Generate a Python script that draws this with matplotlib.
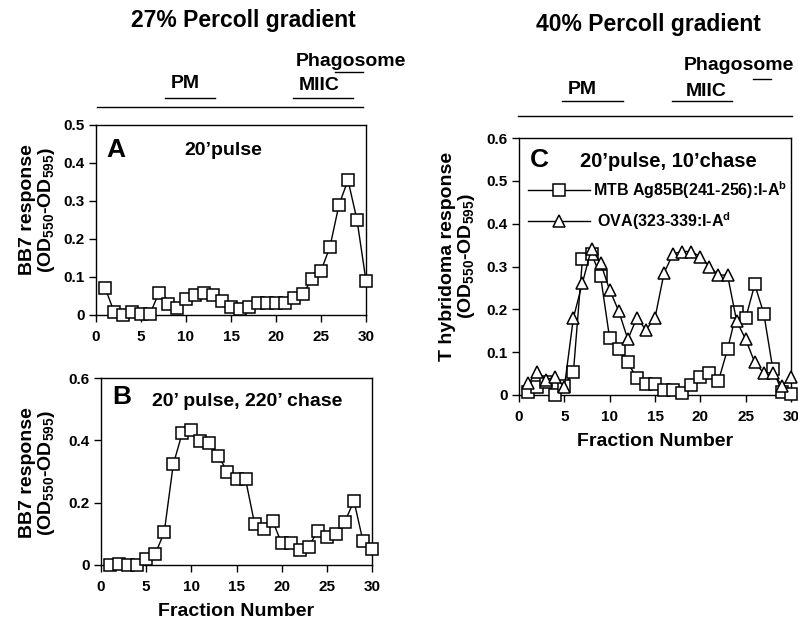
import numpy as np
import matplotlib
matplotlib.use("Agg")
import matplotlib.pyplot as plt
from matplotlib.lines import Line2D

plt.rcParams['font.family'] = ['Liberation Sans', 'DejaVu Sans']
plt.rcParams['font.weight'] = 'bold'
plt.rcParams['mathtext.fontset'] = 'custom'
plt.rcParams['mathtext.rm'] = 'Liberation Sans:bold'
plt.rcParams['mathtext.it'] = 'Liberation Sans:bold'
plt.rcParams['mathtext.bf'] = 'Liberation Sans:bold'

fraction = np.arange(1, 31)

# panel A: 27% gradient, 20' pulse
bb7_pulse = [0.072, 0.009, 0.0, 0.007, 0.003, 0.003, 0.059, 0.029, 0.019, 0.041,
             0.052, 0.058, 0.053, 0.037, 0.022, 0.016, 0.020, 0.031, 0.031, 0.031,
             0.031, 0.044, 0.056, 0.095, 0.116, 0.180, 0.290, 0.355, 0.250, 0.090]

# panel B: 27% gradient, 20' pulse 220' chase
bb7_chase = [0.0, 0.003, 0.0, 0.0, 0.019, 0.035, 0.105, 0.323, 0.424, 0.432,
             0.397, 0.390, 0.349, 0.299, 0.275, 0.275, 0.133, 0.117, 0.142, 0.069,
             0.069, 0.048, 0.059, 0.110, 0.091, 0.101, 0.139, 0.206, 0.077, 0.050]

# panel C: 40% gradient, 20' pulse 10' chase
mtb = [0.008, 0.018, 0.030, 0.0, 0.022, 0.053, 0.318, 0.330, 0.277, 0.132,
       0.108, 0.076, 0.039, 0.026, 0.026, 0.012, 0.012, 0.005, 0.023, 0.041,
       0.051, 0.033, 0.107, 0.194, 0.179, 0.258, 0.190, 0.060, 0.008, 0.002]
ova = [0.027, 0.053, 0.035, 0.043, 0.018, 0.180, 0.262, 0.342, 0.308, 0.245,
       0.196, 0.130, 0.180, 0.152, 0.180, 0.285, 0.330, 0.335, 0.335, 0.323,
       0.300, 0.280, 0.280, 0.173, 0.130, 0.076, 0.051, 0.052, 0.022, 0.041]

ylab_bb7 = 'BB7 response\n(OD$_{550}$-OD$_{595}$)'
ylab_t = 'T hybridoma response\n(OD$_{550}$-OD$_{595}$)'

W, H = 798, 620
fig = plt.figure(figsize=(W / 100, H / 100), dpi=100)


def px_axes(left, right, top, bottom):
    return fig.add_axes([left / W, 1 - bottom / H, (right - left) / W, (bottom - top) / H])


def ftext(x, y, s, size, rot=0, ls=1.2):
    fig.text(x / W, 1 - y / H, s, fontsize=size, fontweight='bold', ha='center',
             va='center', rotation=rot, linespacing=ls, multialignment='center')


def fline(x0, x1, y, lw=1.0):
    fig.add_artist(Line2D([x0 / W, x1 / W], [1 - y / H, 1 - y / H], color='black', lw=lw))


def style(ax):
    ax.set_xlim(0, 30)
    ax.set_xticks(range(0, 31, 5))
    ax.tick_params(axis='x', direction='out', length=5, width=1, labelsize=11, pad=6)
    ax.tick_params(axis='y', direction='out', length=5, width=1, labelsize=11, pad=3)
    for s in ax.spines.values():
        s.set_linewidth(1)
    for lab in ax.get_xticklabels() + ax.get_yticklabels():
        lab.set_fontweight('bold')


mk = dict(color='black', lw=1, markersize=8.5, markerfacecolor='white',
          markeredgewidth=1.1, clip_on=False, zorder=3)

# A
axA = px_axes(96, 366, 125, 315)
axA.plot(fraction, bb7_pulse, marker='s', **mk)
axA.set_ylim(0, 0.5)
axA.set_yticks([0, 0.1, 0.2, 0.3, 0.4, 0.5])
axA.set_yticklabels(['0', '0.1', '0.2', '0.3', '0.4', '0.5'])
style(axA)
ftext(38, 210, ylab_bb7, 14, rot=90, ls=1.0)
axA.text(0.04, 0.93, 'A', transform=axA.transAxes, fontsize=19, fontweight='bold', va='top')
axA.text(0.47, 0.91, '20\u2019pulse', transform=axA.transAxes, fontsize=14,
         fontweight='bold', va='top', ha='center')

# B
axB = px_axes(101, 372, 378, 565)
axB.plot(fraction, bb7_chase, marker='s', **mk)
axB.set_ylim(0, 0.6)
axB.set_yticks([0, 0.2, 0.4, 0.6])
axB.set_yticklabels(['0', '0.2', '0.4', '0.6'])
style(axB)
ftext(38, 473, ylab_bb7, 14, rot=90, ls=1.0)
axB.set_xlabel('Fraction Number', fontsize=14, fontweight='bold', labelpad=6)
axB.text(0.04, 0.96, 'B', transform=axB.transAxes, fontsize=19, fontweight='bold', va='top')
axB.text(0.54, 0.92, '20\u2019 pulse, 220\u2019 chase', transform=axB.transAxes,
         fontsize=14, fontweight='bold', va='top', ha='center')

# C
axC = px_axes(519, 791, 138, 395)
axC.plot(fraction, mtb, marker='s', label='MTB Ag85B(241-256):I-A$^b$', **mk)
axC.plot(fraction, ova, marker='^', label=' OVA(323-339:I-A$^d$', **mk)
axC.set_ylim(0, 0.6)
axC.set_yticks([0, 0.1, 0.2, 0.3, 0.4, 0.5, 0.6])
axC.set_yticklabels(['0', '0.1', '0.2', '0.3', '0.4', '0.5', '0.6'])
style(axC)
ftext(458, 256, ylab_t, 14, rot=90, ls=1.0)
axC.set_xlabel('Fraction Number', fontsize=14, fontweight='bold', labelpad=6)
axC.text(0.04, 0.96, 'C', transform=axC.transAxes, fontsize=19, fontweight='bold', va='top')
axC.text(0.55, 0.945, '20\u2019pulse, 10\u2019chase', transform=axC.transAxes,
         fontsize=14.5, fontweight='bold', va='top', ha='center')
axC.legend(loc='upper left', bbox_to_anchor=(0.01, 0.865), frameon=False,
           handlelength=3.9, handletextpad=0.15, labelspacing=0.6,
           borderaxespad=0, prop={'weight': 'bold', 'size': 11.5})

# header text and bars
ftext(243, 20, '27% Percoll gradient', 16.5)
ftext(351, 61, 'Phagosome', 14)
ftext(185, 84, 'PM', 14)
ftext(319, 85, 'MIIC', 14)
fline(335, 363, 72)
fline(165, 215, 98)
fline(293, 353, 98)
fline(97, 363, 107)

ftext(648, 25, '40% Percoll gradient', 16.5)
ftext(739, 65, 'Phagosome', 14)
ftext(582, 90, 'PM', 14)
ftext(706, 91, 'MIIC', 14)
fline(753, 771, 79)
fline(562, 623, 101)
fline(672, 732, 101)
fline(518, 792, 116)

fig.savefig('out.png', dpi=100)
